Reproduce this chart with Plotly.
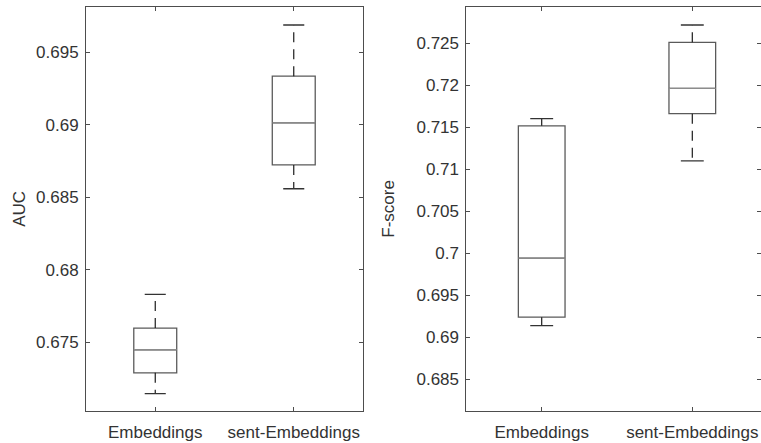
import plotly.graph_objects as go
from plotly.subplots import make_subplots

categories = ["Embeddings", "sent-Embeddings"]
positions = [1, 2]

# AUC panel
auc_lower = [0.67148, 0.68560]
auc_q1 = [0.67291, 0.68724]
auc_median = [0.67450, 0.69014]
auc_q3 = [0.67599, 0.69336]
auc_upper = [0.67831, 0.69689]
auc_ticks = [0.675, 0.68, 0.685, 0.69, 0.695]
auc_ticktext = ["0.675", "0.68", "0.685", "0.69", "0.695"]

# F-score panel
f_lower = [0.69138, 0.71100]
f_q1 = [0.69238, 0.71662]
f_median = [0.69940, 0.71964]
f_q3 = [0.71517, 0.72512]
f_upper = [0.71604, 0.72718]
f_ticks = [0.685, 0.69, 0.695, 0.7, 0.705, 0.71, 0.715, 0.72, 0.725]
f_ticktext = ["0.685", "0.69", "0.695", "0.7", "0.705", "0.71", "0.715", "0.72", "0.725"]

BOX_W = 0.31
CAP_HW = 0.076
FONT = "Liberation Sans, Arial, Helvetica, sans-serif"
BOX_COLOR = "#5a5a5a"
MED_COLOR = "#8c8c8c"
WHISK_COLOR = "#1a1a1a"
AXIS_COLOR = "#4d4d4d"
TEXT_COLOR = "#333333"

fig = make_subplots(rows=1, cols=2)


def add_panel(col, lower, q1, med, q3, upper):
    fig.add_trace(go.Box(
        x=positions, q1=q1, median=med, q3=q3,
        lowerfence=q1, upperfence=q3,
        width=BOX_W, whiskerwidth=0, boxpoints=False,
        fillcolor="rgba(0,0,0,0)",
        line=dict(color=BOX_COLOR, width=1.3),
        showlegend=False, hoverinfo="skip",
    ), row=1, col=col)
    # medians
    mx, my = [], []
    for p, m in zip(positions, med):
        mx += [p - BOX_W / 2, p + BOX_W / 2, None]
        my += [m, m, None]
    fig.add_trace(go.Scatter(x=mx, y=my, mode="lines",
                             line=dict(color=MED_COLOR, width=1.3),
                             showlegend=False, hoverinfo="skip"), row=1, col=col)
    # whiskers (dashed), drawn from the box edge outward
    wx, wy = [], []
    for p, a, b in zip(positions, q3, upper):
        wx += [p, p, None]
        wy += [a, b, None]
    for p, a, b in zip(positions, q1, lower):
        wx += [p, p, None]
        wy += [a, b, None]
    fig.add_trace(go.Scatter(x=wx, y=wy, mode="lines",
                             line=dict(color=WHISK_COLOR, width=1.2, dash="10px,7px"),
                             showlegend=False, hoverinfo="skip"), row=1, col=col)
    # caps
    cx, cy = [], []
    for p, v in zip(positions, upper):
        cx += [p - CAP_HW, p + CAP_HW, None]
        cy += [v, v, None]
    for p, v in zip(positions, lower):
        cx += [p - CAP_HW, p + CAP_HW, None]
        cy += [v, v, None]
    fig.add_trace(go.Scatter(x=cx, y=cy, mode="lines",
                             line=dict(color="#333333", width=1.3),
                             showlegend=False, hoverinfo="skip"), row=1, col=col)


add_panel(1, auc_lower, auc_q1, auc_median, auc_q3, auc_upper)
add_panel(2, f_lower, f_q1, f_median, f_q3, f_upper)

W, H = 761, 443
ydom = [(H - 410.5) / H, (H - 7.3) / H]

common_x = dict(
    tickvals=positions, ticktext=categories,
    showline=True, linecolor=AXIS_COLOR, linewidth=1,
    mirror="ticks", ticks="inside", ticklen=4, tickcolor=AXIS_COLOR,
    showgrid=False, zeroline=False, ticklabelstandoff=6,
    tickfont=dict(family=FONT, size=17, color=TEXT_COLOR),
)
common_y = dict(
    showline=True, linecolor=AXIS_COLOR, linewidth=1,
    mirror="ticks", ticks="inside", ticklen=4, tickcolor=AXIS_COLOR,
    showgrid=False, zeroline=False, ticklabelstandoff=3,
    tickfont=dict(family=FONT, size=17, color=TEXT_COLOR),
)

fig.update_layout(
    width=W, height=H,
    margin=dict(l=0, r=0, t=0, b=0),
    paper_bgcolor="white", plot_bgcolor="white",
    showlegend=False,
    xaxis=dict(common_x, domain=[86 / W, 363 / W], range=[0.5, 2.5]),
    xaxis2=dict(common_x, domain=[466.4 / W, 1.0], range=[0.5, 2.5 - (767.6 - 761) / 150.6]),
    yaxis=dict(common_y, domain=ydom, range=[0.67031, 0.69811],
               tickvals=auc_ticks, ticktext=auc_ticktext,
               title=dict(text="AUC", font=dict(family=FONT, size=17, color=TEXT_COLOR), standoff=6)),
    yaxis2=dict(common_y, domain=ydom, range=[0.68126, 0.72929],
                tickvals=f_ticks, ticktext=f_ticktext,
                title=dict(text="F-score", font=dict(family=FONT, size=17, color=TEXT_COLOR), standoff=17)),
)

fig.write_html("out.html")
